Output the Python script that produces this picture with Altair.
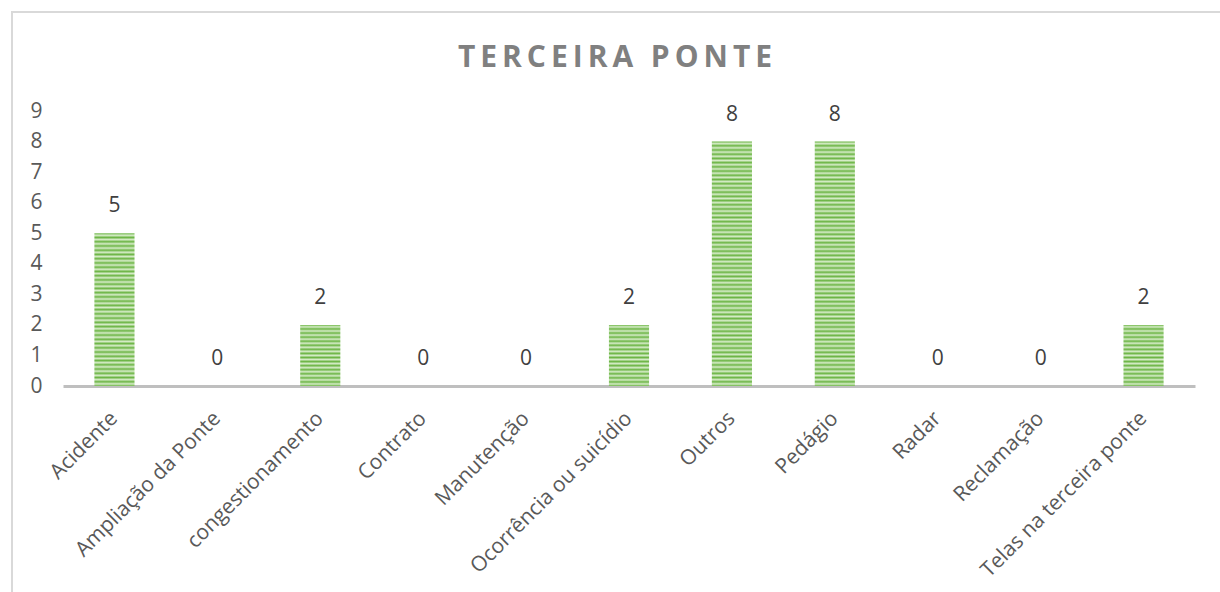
import altair as alt
import pandas as pd

categories = ["Acidente", "Ampliação da Ponte", "congestionamento", "Contrato",
              "Manutenção", "Ocorrência ou suicídio", "Outros", "Pedágio",
              "Radar", "Reclamação", "Telas na terceira ponte"]
values = [5, 0, 2, 0, 0, 2, 8, 8, 0, 0, 2]
y_ticks = list(range(0, 10))
title_text = "TERCEIRA PONTE"

df = pd.DataFrame({"categoria": categories, "valor": values})

W, H = 1132, 275
PX_PER_UNIT = H / 9.0
STRIPE = 4.2
FONT = "Open Sans"


def stripes(v):
    n = max(1, round(v * PX_PER_UNIT / STRIPE))
    stops = []
    for i in range(n):
        stops.append({"offset": i / n, "color": "#6cb545"})
        stops.append({"offset": (i + 0.5) / n, "color": "#d6ecc8"})
    stops.append({"offset": 1.0, "color": "#6cb545"})
    return {"gradient": "linear", "x1": 0, "y1": 0, "x2": 0, "y2": 1, "stops": stops}


x_enc = alt.X("categoria:N", sort=categories, title=None,
              scale=alt.Scale(paddingInner=0.61, paddingOuter=0.305),
              axis=alt.Axis(labelAngle=-45, labelFontSize=21, labelColor="#595959",
                            labelFont=FONT, ticks=False, domainColor="#bfbfbf",
                            domainWidth=3, labelPadding=29, labelOffset=0,
                            labelAlign="right", labelBaseline="middle",
                            labelLimit=0, labelOverlap=False))
y_enc = alt.Y("valor:Q", title=None,
              scale=alt.Scale(domain=[0, 9], nice=False),
              axis=alt.Axis(values=y_ticks, grid=False, domain=False, ticks=False,
                            labelFontSize=21, labelColor="#595959", labelFont=FONT,
                            labelPadding=21, labelOverlap=False))

base = alt.Chart(df)

layers = []
for v in sorted(set(values)):
    if v == 0:
        continue
    layer = base.transform_filter(alt.datum.valor == v).mark_bar(fill=stripes(v)).encode(
        x=x_enc, y=y_enc)
    layers.append(layer)

labels = base.mark_text(dy=-17, baseline="bottom", fontSize=21, color="#404040",
                        font=FONT).encode(
    x=x_enc, y=y_enc, text=alt.Text("valor:Q"))

border = base.mark_rect(fill=None, stroke="#d9d9d9", strokeWidth=1.5).encode(
    x=alt.value(-51), x2=alt.value(W + 40), y=alt.value(-99), y2=alt.value(H + 230))

spaced = "\u2009".join(list(title_text))
title = alt.Chart(pd.DataFrame({"t": [spaced]})).mark_text(
    fontSize=30, font=FONT, fontWeight="bold", color="#808080",
    align="center", baseline="alphabetic").encode(
    x=alt.value(615 - 63), y=alt.value(67 - 111), text="t:N")

chart = alt.layer(border, *layers, labels, title).properties(
    width=W, height=H, background="white",
    autosize=alt.AutoSizeParams(type="none"),
    padding={"left": 63, "top": 111, "right": 25, "bottom": 206},
).configure_view(strokeWidth=0, stroke="transparent")

chart.save("out.html", embed_options={"renderer": "svg", "actions": False})
